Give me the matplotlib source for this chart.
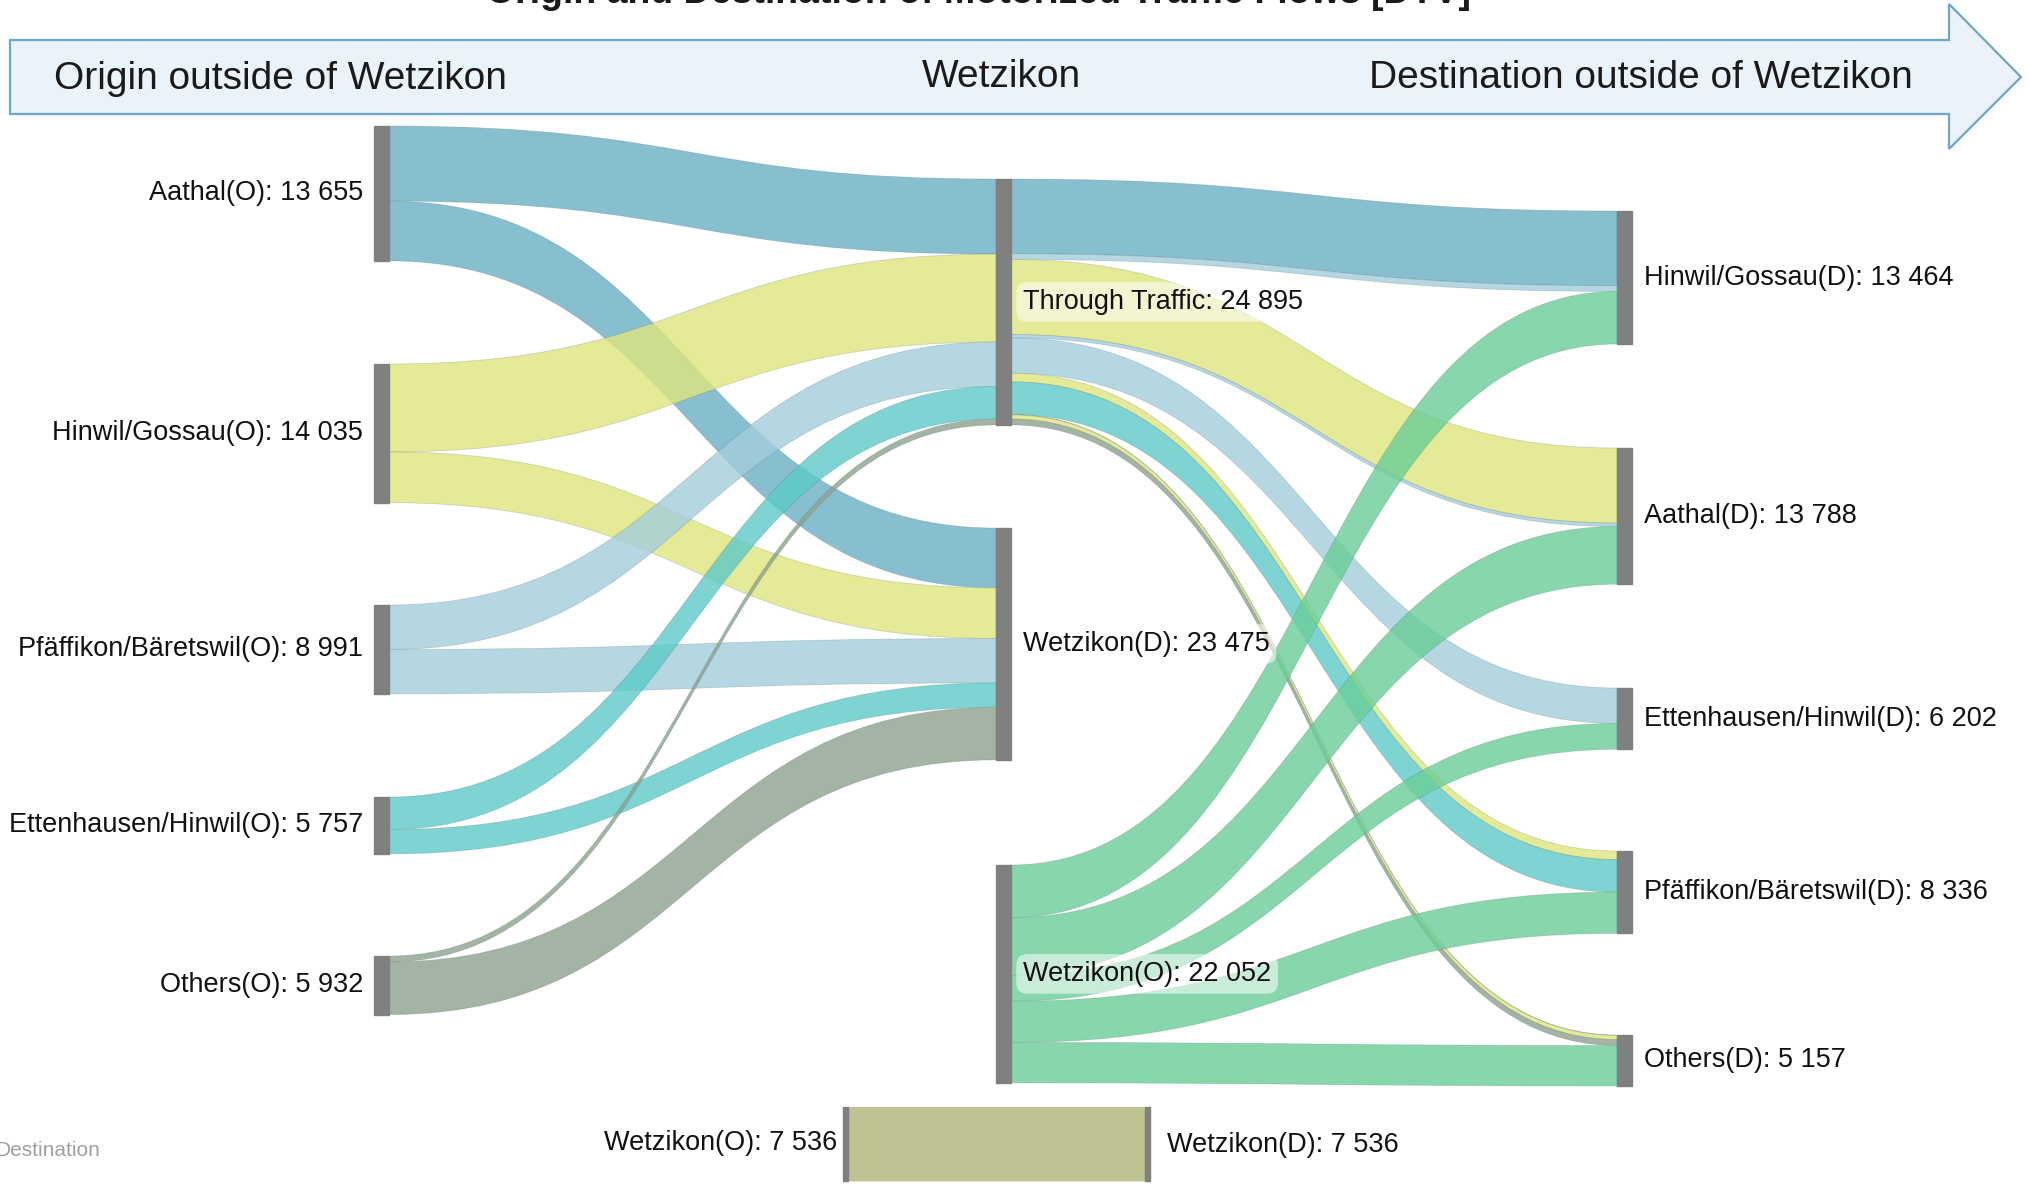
import matplotlib
matplotlib.use("Agg")
import matplotlib.pyplot as plt
from matplotlib.path import Path
from matplotlib.patches import PathPatch, Polygon, Rectangle
from matplotlib import font_manager

# ---------------- data ----------------
origins = ["Aathal(O)", "Hinwil/Gossau(O)", "Pfäffikon/Bäretswil(O)",
           "Ettenhausen/Hinwil(O)", "Others(O)"]
destinations = ["Hinwil/Gossau(D)", "Aathal(D)", "Ettenhausen/Hinwil(D)",
                "Pfäffikon/Bäretswil(D)", "Others(D)"]
# origin -> Wetzikon (destination traffic)
origin_to_wetzikon = [6055, 5135, 4491, 2462, 5332]
# through traffic: rows = origins, columns = destinations
through_matrix = [
    [7562, 0, 0, 0, 38],
    [0, 7600, 0, 873, 427],
    [577, 344, 3579, 0, 0],
    [0, 0, 0, 3295, 0],
    [0, 0, 0, 0, 600],
]
# Wetzikon -> destinations (origin traffic)
wetzikon_to_destination = [5325, 5844, 2623, 4168, 4092]
# internal traffic
internal_traffic = 7536

origin_colors = ["#6BB0C5", "#DEE57C", "#A2CEDB", "#5CCAC7", "#8EA18E"]
wetzikon_color = "#6ACE98"
internal_color = "#B3B97E"
node_color = "#808080"

# ---------------- layout ----------------
W, H = 2031, 1185
K = 0.00988          # px per vehicle
BAR = 15
X_LEFT, X_MID, X_RIGHT = 374, 996, 1617
left_tops = [126, 364, 605, 797, 956]
mid_tops = {"through": 179, "wetz_d": 528, "wetz_o": 865}
right_tops = [211, 448, 688, 851, 1035]

fig = plt.figure(figsize=(W / 100, H / 100), dpi=100)
ax = fig.add_axes([0, 0, 1, 1])
ax.set_xlim(0, W)
ax.set_ylim(H, 0)
ax.axis("off")

avail = {f.name for f in font_manager.fontManager.ttflist}
LABEL_FONT = ["Liberation Sans", "DejaVu Sans"]
narrow = "Liberation Sans Narrow" in avail
HEAD_FONT = ["Liberation Sans Narrow", "Liberation Sans"] if narrow else ["Liberation Sans"]
HEAD_SIZE = 32 if narrow else 28
LSIZE = 19.5


def fmt(v):
    return f"{v:,}".replace(",", " ")


def band(x0, a0, b0, x1, a1, b1, color, alpha=0.8, z=2, edge=True):
    xm = (x0 + x1) / 2
    verts = [(x0, a0), (xm, a0), (xm, a1), (x1, a1), (x1, b1),
             (xm, b1), (xm, b0), (x0, b0), (x0, a0)]
    codes = [Path.MOVETO, Path.CURVE4, Path.CURVE4, Path.CURVE4, Path.LINETO,
             Path.CURVE4, Path.CURVE4, Path.CURVE4, Path.CLOSEPOLY]
    ec = (0.3, 0.38, 0.38, 0.22) if edge else "none"
    ax.add_patch(PathPatch(Path(verts, codes), facecolor=color, alpha=None,
                           edgecolor=ec, lw=0.6, zorder=z))
    ax.patches[-1].set_facecolor(matplotlib.colors.to_rgba(color, alpha))


# ---------------- header arrow ----------------
arrow = Polygon([(10, 40), (1949, 40), (1949, 4), (2021, 77), (1949, 149),
                 (1949, 114), (10, 114)], closed=True, facecolor="#EAF2FA",
                edgecolor="#6CA6C9", lw=1.6, zorder=1)
ax.add_patch(arrow)
ax.text(54, 79, "Origin outside of Wetzikon", fontsize=HEAD_SIZE, family=HEAD_FONT,
        ha="left", va="center", color="#1a1a1a", zorder=3)
ax.text(1001, 77, "Wetzikon", fontsize=HEAD_SIZE, family=HEAD_FONT,
        ha="center", va="center", color="#1a1a1a", zorder=3)
ax.text(1913, 78, "Destination outside of Wetzikon", fontsize=HEAD_SIZE, family=HEAD_FONT,
        ha="right", va="center", color="#1a1a1a", zorder=3)
ax.text(978, 3, "Origin and Destination of Motorized Traffic Flows [DTV]",
        fontsize=27, family=LABEL_FONT, fontweight="bold", ha="center",
        va="baseline", color="#1a1a1a", zorder=3)
ax.text(100, 1150, "Destination", fontsize=15, family=LABEL_FONT, ha="right",
        va="center", color="#a0a0a0")

# ---------------- node totals ----------------
through_from_origin = [sum(r) for r in through_matrix]
origin_totals = [t + w for t, w in zip(through_from_origin, origin_to_wetzikon)]
through_to_dest = [sum(through_matrix[i][j] for i in range(len(origins)))
                   for j in range(len(destinations))]
dest_totals = [t + w for t, w in zip(through_to_dest, wetzikon_to_destination)]
through_total = sum(through_from_origin)
wetz_d_total = sum(origin_to_wetzikon)
wetz_o_total = sum(wetzikon_to_destination)

# ---------------- links: origin -> middle ----------------
thr_in = mid_tops["through"]
wd_in = mid_tops["wetz_d"]
for i in range(len(origins)):
    y = left_tops[i]
    h1 = through_from_origin[i] * K
    band(X_LEFT + BAR, y, y + h1, X_MID, thr_in, thr_in + h1, origin_colors[i])
    thr_in += h1
    y += h1
    h2 = origin_to_wetzikon[i] * K
    band(X_LEFT + BAR, y, y + h2, X_MID, wd_in, wd_in + h2, origin_colors[i])
    wd_in += h2

# ---------------- links: middle -> destinations ----------------
dest_cursor = list(right_tops)
thr_out = mid_tops["through"]
for j in range(len(destinations)):
    for i in range(len(origins)):
        v = through_matrix[i][j]
        if v <= 0:
            continue
        h = v * K
        band(X_MID + BAR, thr_out, thr_out + h, X_RIGHT,
             dest_cursor[j], dest_cursor[j] + h, origin_colors[i])
        thr_out += h
        dest_cursor[j] += h
wo_out = mid_tops["wetz_o"]
for j in range(len(destinations)):
    h = wetzikon_to_destination[j] * K
    band(X_MID + BAR, wo_out, wo_out + h, X_RIGHT,
         dest_cursor[j], dest_cursor[j] + h, wetzikon_color)
    wo_out += h
    dest_cursor[j] += h

# ---------------- internal traffic ----------------
it_top = 1107
ih = internal_traffic * K
band(848, it_top, it_top + ih, 1145, it_top, it_top + ih, internal_color,
     alpha=0.85, edge=False)
ax.add_patch(Rectangle((843, it_top), 5, ih, color=node_color, zorder=4))
ax.add_patch(Rectangle((1145, it_top), 5, ih, color=node_color, zorder=4))
ax.text(837, it_top + ih / 2 - 1, f"Wetzikon(O): {fmt(internal_traffic)}", fontsize=LSIZE,
        family=LABEL_FONT, ha="right", va="center", color="#111")
ax.text(1167, it_top + ih / 2 + 1, f"Wetzikon(D): {fmt(internal_traffic)}", fontsize=LSIZE,
        family=LABEL_FONT, ha="left", va="center", color="#111")

# ---------------- nodes ----------------
for i, name in enumerate(origins):
    h = origin_totals[i] * K
    ax.add_patch(Rectangle((X_LEFT, left_tops[i]), BAR, h, color=node_color, zorder=4))
    ax.text(X_LEFT - 11, left_tops[i] + h / 2, f"{name}: {fmt(origin_totals[i])}",
            fontsize=LSIZE, family=LABEL_FONT, ha="right", va="center", color="#111")

mid_nodes = [("Through Traffic", mid_tops["through"], through_total),
             ("Wetzikon(D)", mid_tops["wetz_d"], wetz_d_total),
             ("Wetzikon(O)", mid_tops["wetz_o"], wetz_o_total)]
for name, top, tot in mid_nodes:
    h = tot * K
    ax.add_patch(Rectangle((X_MID, top), BAR, h, color=node_color, zorder=4))
    ax.text(X_MID + BAR + 12, top + h / 2, f"{name}: {fmt(tot)}", fontsize=LSIZE,
            family=LABEL_FONT, ha="left", va="center", color="#111", zorder=5,
            bbox=dict(boxstyle="round,pad=0.25,rounding_size=0.4", fc="white",
                      ec="none", alpha=0.55))

for j, name in enumerate(destinations):
    h = dest_totals[j] * K
    ax.add_patch(Rectangle((X_RIGHT, right_tops[j]), BAR, h, color=node_color, zorder=4))
    ax.text(X_RIGHT + BAR + 12, right_tops[j] + h / 2, f"{name}: {fmt(dest_totals[j])}",
            fontsize=LSIZE, family=LABEL_FONT, ha="left", va="center", color="#111")

fig.savefig("out.png", dpi=100)
